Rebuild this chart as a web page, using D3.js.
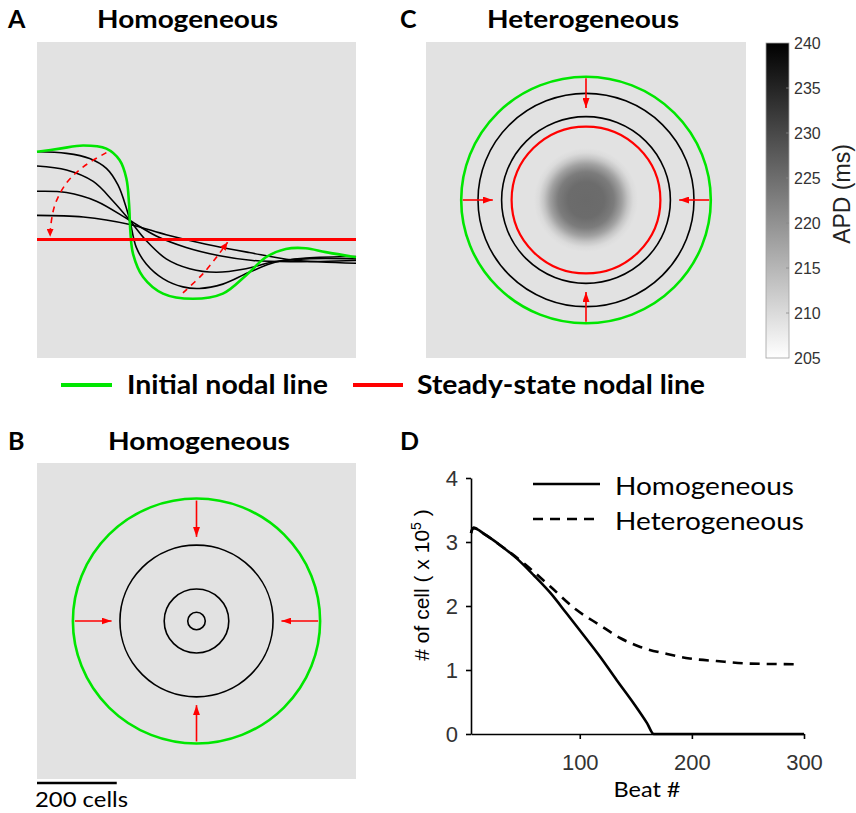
<!DOCTYPE html>
<html>
<head>
<meta charset="utf-8">
<script src="https://cdn.jsdelivr.net/npm/d3@7"></script>
<style>
  body { margin: 0; background: #fff; }
  svg { display: block; }
</style>
</head>
<body>
<div id="wrapper"></div>
<script>
// 1. Data

// Panels A-C share a square tissue of 800 x 800 cells, points are [column, row]
const gridCells = 800

// A: homogeneous, nodal line drifting to the middle row
const initialLineA = [[0,278],[57,270],[116,262],[174,270],[207,299],[224,345],[231,412],[234,478],[241,537],[266,595],[316,637],[391,650],[466,637],[524,591],[574,545],[624,524],[674,522],[724,532],[800,545]]
const transientLinesA = [
    [[0,278],[74,282],[132,295],[174,320],[203,362],[224,420],[233,452],[249,520],[274,562],[316,599],[366,620],[407,624],[466,613],[532,583],[599,557],[674,547],[800,543]],
    [[0,314],[74,324],[141,353],[191,403],[233,452],[274,503],[324,549],[383,574],[449,583],[524,574],[591,557],[674,549],[800,549]],
    [[0,378],[74,381],[149,403],[233,452],[299,491],[374,520],[458,541],[541,553],[641,556],[800,553]],
    [[0,439],[116,443],[233,462],[324,488],[424,512],[532,533],[641,552],[800,560]]
]
const steadyRowA = 500
const driftArrowsA = [
    [[174,280],[116,316],[74,357],[45,412],[34,470],[33,493]],
    [[366,635],[416,587],[453,541],[478,507]]
]

// B: homogeneous, circular nodal line shrinking to nothing
const centerB = [400, 400]
const initialRadiusB = 310
const transientRadiiB = [192, 81, 22]
const arrowSpanB = [305, 213]

// C: heterogeneous, circular nodal line pinned by long-APD region
const centerC = [400, 400]
const initialRadiusC = 312
const transientRadiiC = [270, 211]
const steadyRadiusC = 186
const arrowSpanC = [308, 233]
const apdRadiusC = [0, 45, 70, 90, 105, 118, 130]
const apdValueC = [225.5, 225.2, 223, 218, 213, 210, 209]
const apdBackground = 209
const apdTicks = [205, 210, 215, 220, 225, 230, 235, 240]

// D: number of cells on the nodal line vs beat
const beatsHomo = [3, 5, 16, 29, 44, 59, 74, 88, 100, 118, 133, 148, 160, 166, 300]
const cellsHomo = [3.14, 3.22, 3.11, 2.95, 2.74, 2.48, 2.20, 1.89, 1.62, 1.21, 0.84, 0.48, 0.17, 0, 0]
const beatsHetero = [3, 5, 16, 29, 50, 74, 97, 118, 136, 154, 178, 198, 222, 252, 294]
const cellsHetero = [3.14, 3.22, 3.11, 2.95, 2.67, 2.30, 1.94, 1.70, 1.50, 1.36, 1.25, 1.18, 1.14, 1.10, 1.09]
const beatTicks = [100, 200, 300]
const cellTicks = [0, 1, 2, 3, 4]

// 2. Dimensions and styles

const width = 856
const height = 813
const green = "#00e600"
const red = "#ff0000"
const calibri = "Lato, 'Open Sans', sans-serif"
const arial = "'Liberation Sans', Arial, sans-serif"

const colorScale = d3.scaleLinear()
    .domain([205, 240])
    .range(["#ffffff", "#000000"])

const svg = d3.select("#wrapper")
    .append("svg")
    .attr("width", width)
    .attr("height", height)

const defs = svg.append("defs")

function addArrowMarker(id, len, wid) {
    defs.append("marker")
        .attr("id", id)
        .attr("viewBox", `0 ${-wid / 2} ${len} ${wid}`)
        .attr("refX", len)
        .attr("refY", 0)
        .attr("markerUnits", "userSpaceOnUse")
        .attr("markerWidth", len)
        .attr("markerHeight", wid)
        .attr("orient", "auto")
        .append("path")
        .attr("d", `M0,${-wid / 2}L${len},0L0,${wid / 2}Z`)
        .attr("fill", red)
}
addArrowMarker("arrow-small", 8, 7)
addArrowMarker("arrow-big", 10, 7)

function addText(g, x, y, text, opts) {
    const t = g.append("text")
        .attr("x", x)
        .attr("y", y)
        .attr("font-family", opts.family || calibri)
        .attr("font-size", opts.size)
        .attr("font-weight", opts.weight || "normal")
        .attr("fill", opts.fill || "#000")
        .attr("text-anchor", opts.anchor || "start")
        .text(text)
    if (opts.length) {
        t.attr("textLength", opts.length).attr("lengthAdjust", "spacingAndGlyphs")
    }
    return t
}

// a tissue panel with its own cell scales
function tissuePanel(x0, y0, w, h, bg) {
    const g = svg.append("g")
    const x = d3.scaleLinear().domain([0, gridCells]).range([x0, x0 + w])
    const y = d3.scaleLinear().domain([0, gridCells]).range([y0, y0 + h])
    g.append("rect")
        .attr("x", x0).attr("y", y0)
        .attr("width", w).attr("height", h)
        .attr("fill", bg)
    return { g, x, y }
}

function radialArrows(p, center, span) {
    const dirs = [[0, -1], [-1, 0], [1, 0], [0, 1]]
    dirs.forEach(([dx, dy]) => {
        p.g.append("line")
            .attr("x1", p.x(center[0] + dx * span[0]))
            .attr("y1", p.y(center[1] + dy * span[0]))
            .attr("x2", p.x(center[0] + dx * span[1]))
            .attr("y2", p.y(center[1] + dy * span[1]))
            .attr("stroke", red)
            .attr("stroke-width", 1.6)
            .attr("marker-end", "url(#arrow-big)")
    })
}

function circle(p, center, r, color, w) {
    p.g.append("ellipse")
        .attr("cx", p.x(center[0]))
        .attr("cy", p.y(center[1]))
        .attr("rx", p.x(r) - p.x(0))
        .attr("ry", p.y(r) - p.y(0))
        .attr("fill", "none")
        .attr("stroke", color)
        .attr("stroke-width", w)
}

// 3. Panel A

const pA = tissuePanel(37, 42, 319, 316, colorScale(apdBackground))
const lineA = d3.line()
    .x(d => pA.x(d[0]))
    .y(d => pA.y(d[1]))
    .curve(d3.curveCatmullRom.alpha(0.5))

pA.g.selectAll(".transient")
    .data(transientLinesA)
    .join("path")
    .attr("d", lineA)
    .attr("fill", "none")
    .attr("stroke", "#000")
    .attr("stroke-width", 1.6)

pA.g.append("path")
    .attr("d", lineA(initialLineA))
    .attr("fill", "none")
    .attr("stroke", green)
    .attr("stroke-width", 2.6)

pA.g.append("line")
    .attr("x1", pA.x(0)).attr("x2", pA.x(gridCells))
    .attr("y1", pA.y(steadyRowA)).attr("y2", pA.y(steadyRowA))
    .attr("stroke", red)
    .attr("stroke-width", 3)

pA.g.selectAll(".drift")
    .data(driftArrowsA)
    .join("path")
    .attr("d", lineA)
    .attr("fill", "none")
    .attr("stroke", red)
    .attr("stroke-width", 1.6)
    .attr("stroke-dasharray", "6,5")
    .attr("marker-end", "url(#arrow-small)")

addText(svg, 8, 28, "A", { size: 25, weight: "bold" })
addText(svg, 97, 28, "Homogeneous", { size: 25, weight: "bold", length: 181 })

// 4. Panel B

const pB = tissuePanel(37, 463, 319, 316, colorScale(apdBackground))
transientRadiiB.forEach(r => circle(pB, centerB, r, "#000", 1.6))
circle(pB, centerB, initialRadiusB, green, 2.6)
radialArrows(pB, centerB, arrowSpanB)

addText(svg, 8, 450, "B", { size: 25, weight: "bold" })
addText(svg, 108, 450, "Homogeneous", { size: 25, weight: "bold", length: 182 })

// scale bar: 200 cells
svg.append("line")
    .attr("x1", pB.x(0)).attr("x2", pB.x(200))
    .attr("y1", 783).attr("y2", 783)
    .attr("stroke", "#000")
    .attr("stroke-width", 2.5)
addText(svg, 35, 807, "200 cells", { size: 21, length: 93 })

// 5. Panel C

const pC = tissuePanel(426, 42, 320, 316, colorScale(apdBackground))
const rMax = pC.x(apdRadiusC[apdRadiusC.length - 1]) - pC.x(0)
const blob = defs.append("radialGradient")
    .attr("id", "apd-blob")
    .attr("gradientUnits", "userSpaceOnUse")
    .attr("cx", pC.x(centerC[0]))
    .attr("cy", pC.y(centerC[1]))
    .attr("r", rMax)
blob.selectAll("stop")
    .data(apdRadiusC)
    .join("stop")
    .attr("offset", d => (pC.x(d) - pC.x(0)) / rMax)
    .attr("stop-color", (d, i) => colorScale(apdValueC[i]))
pC.g.append("circle")
    .attr("cx", pC.x(centerC[0]))
    .attr("cy", pC.y(centerC[1]))
    .attr("r", rMax)
    .attr("fill", "url(#apd-blob)")

transientRadiiC.forEach(r => circle(pC, centerC, r, "#000", 1.6))
circle(pC, centerC, steadyRadiusC, red, 2.2)
circle(pC, centerC, initialRadiusC, green, 2.6)
radialArrows(pC, centerC, arrowSpanC)

addText(svg, 400, 28, "C", { size: 25, weight: "bold" })
addText(svg, 487, 28, "Heterogeneous", { size: 25, weight: "bold", length: 192 })

// colorbar
const barY = d3.scaleLinear().domain([205, 240]).range([358, 43])
const barGrad = defs.append("linearGradient")
    .attr("id", "apd-bar")
    .attr("x1", 0).attr("x2", 0).attr("y1", 1).attr("y2", 0)
barGrad.selectAll("stop")
    .data(colorScale.domain())
    .join("stop")
    .attr("offset", (d, i) => i)
    .attr("stop-color", d => colorScale(d))

svg.append("rect")
    .attr("x", 766).attr("y", barY(240))
    .attr("width", 23).attr("height", barY(205) - barY(240))
    .attr("fill", "url(#apd-bar)")
    .attr("stroke", "#a0a0a0")
    .attr("stroke-width", 0.8)

const barAxis = svg.append("g")
    .attr("transform", "translate(789,0)")
    .call(d3.axisRight(barY).tickValues(apdTicks).tickSize(0).tickPadding(5))
barAxis.select(".domain").remove()
barAxis.selectAll("text")
    .attr("font-family", arial)
    .attr("font-size", 16)
    .attr("fill", "#333")
svg.selectAll(".bar-tick")
    .data(apdTicks.slice(1, -1))
    .join("line")
    .attr("x1", 786).attr("x2", 789)
    .attr("y1", d => barY(d)).attr("y2", d => barY(d))
    .attr("stroke", "#888")
    .attr("stroke-width", 0.8)

svg.append("text")
    .attr("transform", "translate(850,194) rotate(-90)")
    .attr("text-anchor", "middle")
    .attr("font-family", arial)
    .attr("font-size", 23)
    .attr("fill", "#222")
    .text("APD (ms)")

// legend row
const legendRow = svg.append("g")
legendRow.append("line")
    .attr("x1", 61).attr("x2", 112).attr("y1", 385).attr("y2", 385)
    .attr("stroke", green).attr("stroke-width", 4)
addText(legendRow, 127, 394, "Initial nodal line", { size: 26, weight: "bold", length: 201 })
legendRow.append("line")
    .attr("x1", 353).attr("x2", 403).attr("y1", 385).attr("y2", 385)
    .attr("stroke", red).attr("stroke-width", 4)
addText(legendRow, 417, 394, "Steady-state nodal line", { size: 26, weight: "bold", length: 288 })

// 6. Panel D

addText(svg, 400, 450, "D", { size: 25, weight: "bold" })

const xD = d3.scaleLinear().domain([3, 300]).range([471, 804])
const yD = d3.scaleLinear().domain([0, 4]).range([734, 478])

const xAxis = svg.append("g")
    .attr("transform", `translate(0,${yD(0)})`)
    .call(d3.axisBottom(xD).tickValues(beatTicks).tickFormat(d3.format("d"))
        .tickSize(5).tickSizeOuter(0).tickPadding(15))
const yAxis = svg.append("g")
    .attr("transform", `translate(${xD(3)},0)`)
    .call(d3.axisLeft(yD).tickValues(cellTicks).tickFormat(d3.format("d"))
        .tickSize(5).tickSizeOuter(0).tickPadding(8))

svg.selectAll(".domain, .tick line")
    .attr("stroke", "#000")
    .attr("stroke-width", 1.6)
xAxis.selectAll("text").attr("font-family", arial).attr("font-size", 22).attr("fill", "#333")
yAxis.selectAll("text").attr("font-family", arial).attr("font-size", 22).attr("fill", "#333")

const lineD = d3.line()
    .x(d => xD(d[0]))
    .y(d => yD(d[1]))
    .curve(d3.curveMonotoneX)

svg.append("path")
    .attr("d", lineD(d3.zip(beatsHomo, cellsHomo)))
    .attr("fill", "none")
    .attr("stroke", "#000")
    .attr("stroke-width", 2.6)

svg.append("path")
    .attr("d", lineD(d3.zip(beatsHetero, cellsHetero)))
    .attr("fill", "none")
    .attr("stroke", "#000")
    .attr("stroke-width", 2.6)
    .attr("stroke-dasharray", "10,7")

addText(svg, 647, 797, "Beat #", { size: 22, anchor: "middle", length: 67 })

const yLabel = svg.append("text")
    .attr("transform", "translate(429,585) rotate(-90)")
    .attr("text-anchor", "middle")
    .attr("font-family", arial)
    .attr("font-size", 21)
    .attr("fill", "#000")
yLabel.append("tspan").text("# of cell ( x 10")
yLabel.append("tspan").attr("dy", -8).attr("font-size", 14).text("5")
yLabel.append("tspan").attr("dy", 8).text(" )")

// legend D
const legendD = svg.append("g")
legendD.append("line")
    .attr("x1", 533).attr("x2", 600).attr("y1", 484).attr("y2", 484)
    .attr("stroke", "#000").attr("stroke-width", 2.6)
legendD.append("line")
    .attr("x1", 533).attr("x2", 600).attr("y1", 519).attr("y2", 519)
    .attr("stroke", "#000").attr("stroke-width", 2.6)
    .attr("stroke-dasharray", "10,7")
addText(legendD, 615, 495, "Homogeneous", { size: 25, length: 179 })
addText(legendD, 615, 530, "Heterogeneous", { size: 25, length: 189 })
</script>
</body>
</html>
